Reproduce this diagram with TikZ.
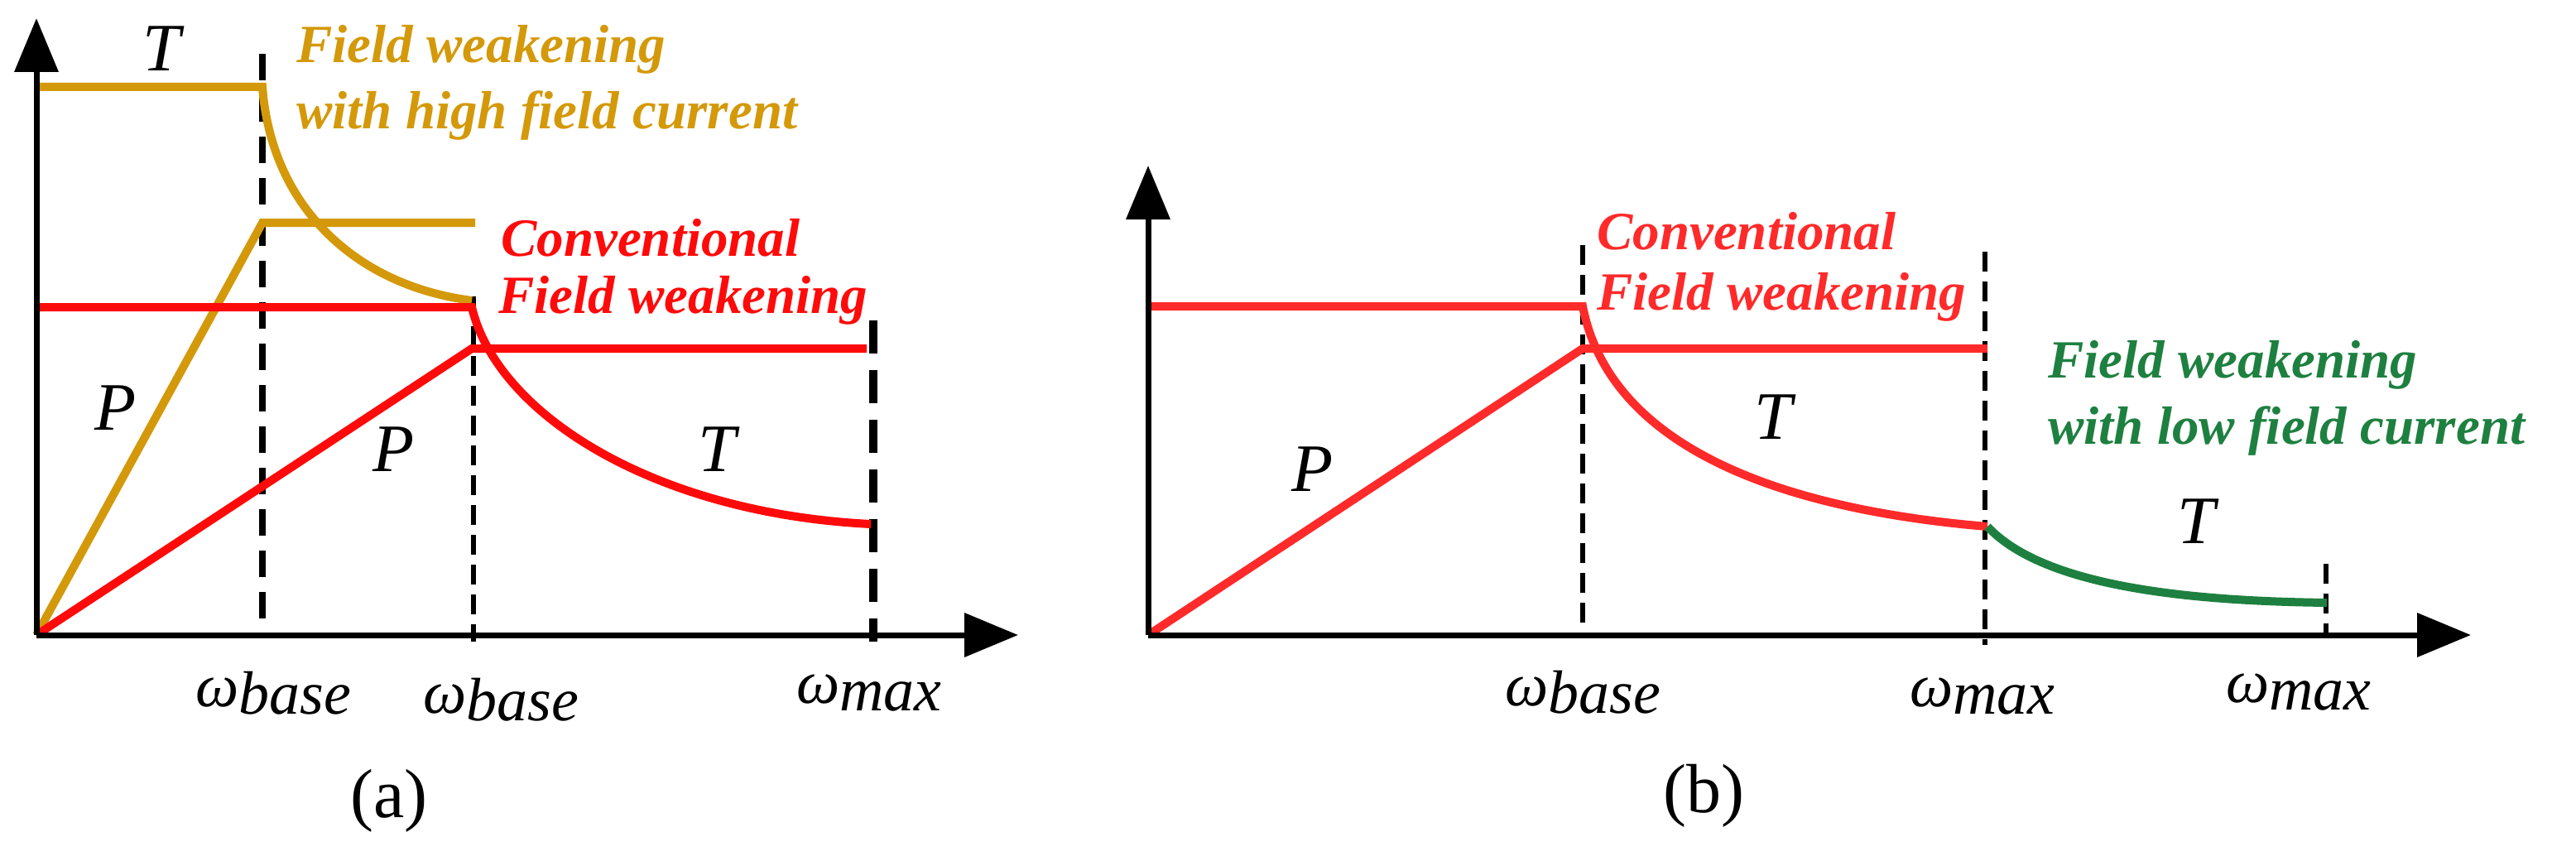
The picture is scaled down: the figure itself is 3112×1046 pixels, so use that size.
\documentclass[tikz,border=0pt]{standalone}
\usepackage{fontspec}
\setmainfont{Liberation Serif}
\usetikzlibrary{arrows.meta}
\definecolor{gold}{RGB}{212,153,10}
\definecolor{myred}{RGB}{255,10,10}
\definecolor{lred}{RGB}{255,42,42}
\definecolor{mygreen}{RGB}{30,128,64}
\newcommand{\wsub}[1]{ω\raisebox{-0.25ex}{#1}}
\tikzset{
 ax/.style={line width=7pt,-{Triangle[length=65pt,width=52pt]}},
 cur/.style={line width=10pt},
 dsh/.style={line width=8pt,dash pattern=on 32pt off 18pt},
 dshthin/.style={line width=6pt,dash pattern=on 24pt off 12pt},
 lab/.style={font=\fontsize{65}{70}\selectfont\bfseries\itshape,align=left,anchor=west,inner sep=0pt},
 sym/.style={font=\fontsize{82}{86}\selectfont\itshape,inner sep=0pt},
 wl/.style={font=\fontsize{74}{78}\selectfont\itshape,inner sep=0pt},
 panellab/.style={font=\fontsize{84}{88}\selectfont,inner sep=0pt},
}
\begin{document}
\begin{tikzpicture}[x=1pt,y=-1pt]
\useasboundingbox (0,0) rectangle (3112,1046);
% ---------- panel (a)
\coordinate (oa) at (44,767);
\coordinate (ya) at (44,22);
\coordinate (xa) at (1230,767);
\draw[dsh] (317,65) -- (317,770);
\draw[dshthin] (572,358) -- (572,775);
\draw[line width=10pt,dash pattern=on 40pt off 20pt] (1055,387) -- (1055,775);
\draw[cur,gold] (44,105) -- (317,105) .. controls (328,250) and (430,345) .. (570,363);
\draw[cur,gold] (oa) -- (317,269) -- (574,269);
\draw[cur,myred] (44,371) -- (570,371) .. controls (600,500) and (790,620) .. (1052,633);
\draw[cur,myred] (oa) -- (570,421) -- (1047,421);
\draw[ax] (oa) -- (ya);
\draw[ax] (oa) -- (xa);
\node[sym] (ta1) at (195,59) {T};
\node[sym] (pa1) at (140,493) {P};
\node[sym] (pa2) at (476,543) {P};
\node[sym] (ta2) at (866,543) {T};
\node[lab,gold] (ga) at (358,60) {Field weakening};
\node[lab,gold] (gb) at (358,140) {with high field current};
\node[lab,myred] (ra) at (605,287) {Conventional};
\node[lab,myred] (rb) at (602,363) {Field weakening};
\node[wl] (w1) at (330,837) {\wsub{base}};
\node[wl] (w2) at (605,845) {\wsub{base}};
\node[wl] (w3) at (1050,837) {\wsub{max}};
\node[panellab] (la) at (470,967) {(a)};
% ---------- panel (b)
\coordinate (ob) at (1387,767);
\coordinate (yb) at (1387,200);
\coordinate (xb) at (2985,767);
\draw[dshthin] (1912,296) -- (1912,767);
\draw[dshthin] (2398,304) -- (2398,779);
\draw[dshthin] (2810,681) -- (2810,767);
\draw[cur,lred] (1387,370) -- (1912,370) .. controls (1945,540) and (2150,615) .. (2401,636);
\draw[cur,lred] (ob) -- (1912,421) -- (2401,421);
\draw[cur,mygreen] (2401,636) .. controls (2470,710) and (2650,726) .. (2811,728);
\draw[ax] (ob) -- (yb);
\draw[ax] (ob) -- (xb);
\node[sym] (tb1) at (2142,504) {T};
\node[sym] (pb1) at (1586,567) {P};
\node[sym] (tb2) at (2653,630) {T};
\node[lab,lred] (rc) at (1929,279) {Conventional};
\node[lab,lred] (rd) at (1929,359) {Field weakening};
\node[lab,mygreen] (gc) at (2474,441) {Field weakening};
\node[lab,mygreen] (gd) at (2474,521) {with low field current};
\node[wl] (w4) at (1912,836) {\wsub{base}};
\node[wl] (w5) at (2395,841) {\wsub{max}};
\node[wl] (w6) at (2777,836) {\wsub{max}};
\node[panellab] (lb) at (2058,961) {(b)};
\end{tikzpicture}
\end{document}
